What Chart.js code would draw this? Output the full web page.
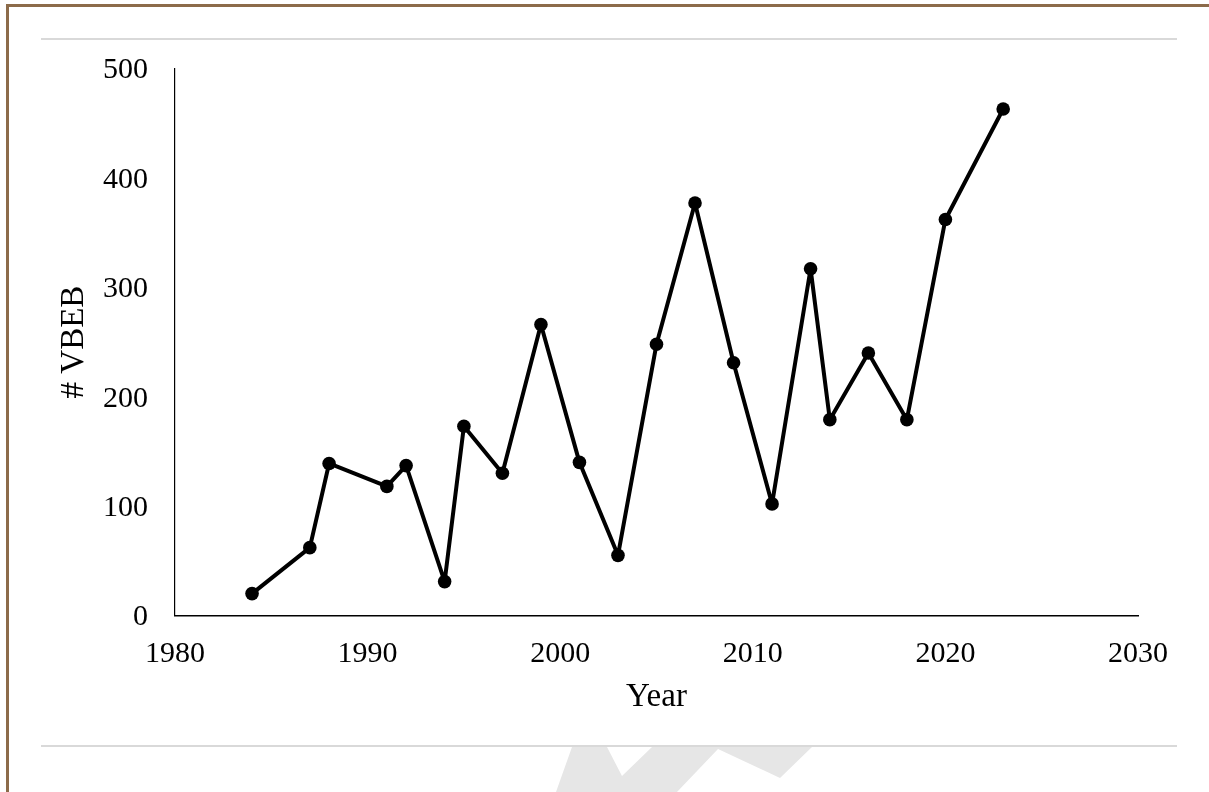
<!DOCTYPE html>
<html>
<head>
<meta charset="utf-8">
<script src="https://cdn.jsdelivr.net/npm/chart.js@4/dist/chart.umd.min.js"></script>
<style>
  html, body { margin: 0; padding: 0; background: #ffffff; }
  #wrap { position: relative; width: 1209px; height: 792px; overflow: hidden; background: #ffffff; }
  #frame { position: absolute; left: 6px; top: 4px; width: 1400px; height: 1000px;
           border-top: 3px solid #8c6b4a; border-left: 3px solid #8c6b4a; }
  .rule { position: absolute; left: 41px; width: 1136px; height: 2px; background: #d9d9d9; }
  #deco { position: absolute; left: 0; top: 0; }
  #chart { position: absolute; left: 0; top: 0; }
</style>
</head>
<body>
<div id="wrap">
  <div id="frame"></div>
  <div class="rule" style="top:38px"></div>
  <div class="rule" style="top:745px"></div>
  <svg id="deco" width="1209" height="792">
    <polygon fill="#e6e6e6" points="572,747 607,747 622,776 652,747 812,747 780,778 718,749 677,792 556,792"/>
  </svg>
  <canvas id="chart" width="1209" height="792"></canvas>
</div>
<script>
const years = [1984, 1987, 1988, 1991, 1992, 1994, 1995, 1997, 1999, 2001, 2003, 2005, 2007, 2009, 2011, 2013, 2014, 2016, 2018, 2020, 2023];
const vbeb  = [20, 62, 139, 118, 137, 31, 173, 130, 266, 140, 55, 248, 377, 231, 102, 317, 179, 240, 179, 362, 463];
const xTicks = [1980, 1990, 2000, 2010, 2020, 2030];
const yTicks = [0, 100, 200, 300, 400, 500];
const xTitle = 'Year';
const yTitle = '# VBEB';

const FONT = "'Liberation Serif', 'DejaVu Serif', serif";

new Chart(document.getElementById('chart'), {
  type: 'line',
  data: {
    datasets: [{
      data: years.map((y, i) => ({ x: y, y: vbeb[i] })),
      borderColor: '#000000',
      borderWidth: 4,
      borderJoinStyle: 'round',
      borderCapStyle: 'round',
      backgroundColor: '#000000',
      pointBackgroundColor: '#000000',
      pointBorderWidth: 0,
      pointRadius: 6.8,
      tension: 0,
      fill: false,
      clip: false
    }]
  },
  options: {
    responsive: false,
    animation: false,
    events: [],
    layout: { padding: { left: 0, top: 68.5, right: 71, bottom: 0 } },
    plugins: { legend: { display: false }, tooltip: { enabled: false } },
    scales: {
      x: {
        type: 'linear',
        min: xTicks[0],
        max: xTicks[xTicks.length - 1],
        afterBuildTicks: s => { s.ticks = xTicks.map(v => ({ value: v })); },
        afterFit: s => { s.height = 176.5; },
        grid: { display: false, drawTicks: false },
        border: { display: true, color: '#000000', width: 1.5 },
        ticks: { color: '#000000', font: { family: FONT, size: 30 }, padding: 21, maxRotation: 0,
                 callback: v => String(v) },
        title: { display: true, text: xTitle, color: '#000000', font: { family: FONT, size: 33 },
                 padding: { top: 0, bottom: 75 } }
      },
      y: {
        type: 'linear',
        min: yTicks[0],
        max: yTicks[yTicks.length - 1],
        afterBuildTicks: s => { s.ticks = yTicks.map(v => ({ value: v })); },
        afterFit: s => { s.width = 175; },
        grid: { display: false, drawTicks: false },
        border: { display: true, color: '#000000', width: 1.2 },
        ticks: { color: '#000000', font: { family: FONT, size: 30 }, padding: 27, labelOffset: 2,
                 callback: v => String(v) },
        title: { display: true, text: yTitle, color: '#000000', font: { family: FONT, size: 33 },
                 padding: { top: 55, bottom: 0 } }
      }
    }
  }
});
</script>
</body>
</html>
